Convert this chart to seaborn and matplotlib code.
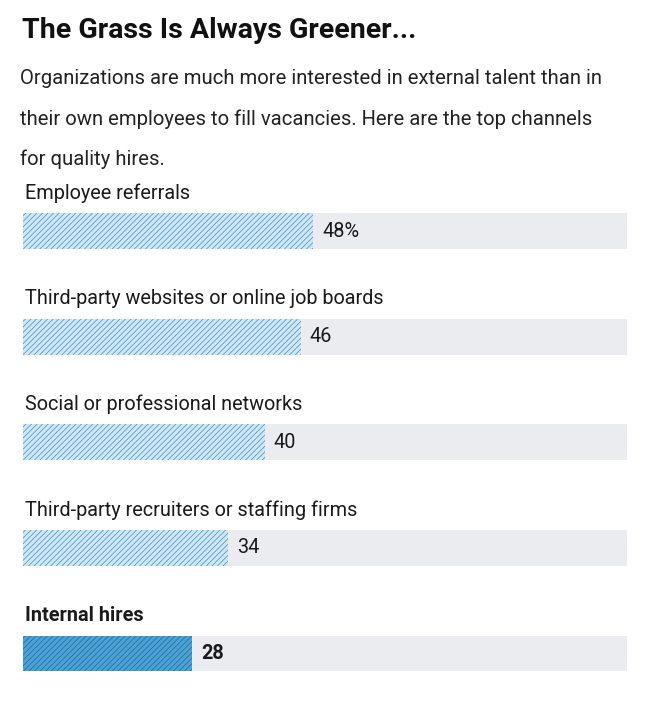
import matplotlib
matplotlib.use("Agg")
import matplotlib.pyplot as plt
import seaborn as sns
import pandas as pd

categories = ["Employee referrals", "Third-party websites or online job boards",
              "Social or professional networks", "Third-party recruiters or staffing firms",
              "Internal hires"]
values = [48, 46, 40, 34, 28]
value_labels = ["48%", "46", "40", "34", "28"]
full = [100] * 5

plt.rcParams["font.family"] = "Roboto"
plt.rcParams["hatch.linewidth"] = 0.6
df = pd.DataFrame({"cat": categories, "val": values, "full": full})

fig = plt.figure(figsize=(6.65, 7.16), dpi=100)
ax = fig.add_axes([23/665, 1-690/716, 604/665, 500/716])
sns.barplot(data=df, y="cat", x="full", color="#e9ecf0", width=0.34, ax=ax, orient="h")
sns.barplot(data=df, y="cat", x="val", color="#cde9f8", width=0.34, ax=ax, orient="h")
bars = ax.patches[5:]
for i, p in enumerate(bars):
    p.set_hatch("//////")
    p.set_edgecolor("#4a9fd4" if i < 4 else "#2a6f9c")
    p.set_linewidth(0)
    if i == 4:
        p.set_facecolor("#4aa3d8")
for p in ax.patches[:5]:
    p.set_linewidth(0)
ax.set_xlim(0, 100)
ax.set_ylim(4.346, -0.389)
ax.axis("off")
for i, (c, v, l) in enumerate(zip(categories, values, value_labels)):
    w = "bold" if i == 4 else "normal"
    ax.text(0.3, i - 0.36, c, fontsize=14.3, va="center", ha="left", fontweight=w, color="#1a1a1a")
    ax.text(v + 1.5, i, l, fontsize=14.3, va="center", ha="left", fontweight=w, color="#1a1a1a")

fig.text(22/665, 1-30/716, "The Grass Is Always Greener...", fontsize=20.5, fontweight="bold",
         va="center", ha="left", color="#111111")
sub = ["Organizations are much more interested in external talent than in",
       "their own employees to fill vacancies. Here are the top channels",
       "for quality hires."]
for k, s in enumerate(sub):
    fig.text(20/665, 1-(79+40*k)/716, s, fontsize=14.6, va="center", ha="left", color="#222222")
fig.savefig("out.png", dpi=100, facecolor="white")
